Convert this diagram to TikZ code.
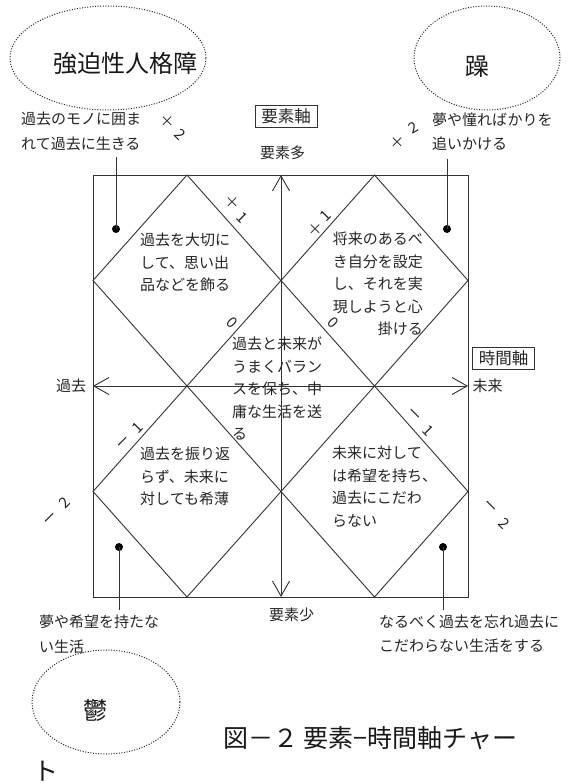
\documentclass[tikz,border=0pt]{standalone}
\usepackage{fontspec}
\setmainfont{Noto Sans CJK JP}
\usetikzlibrary{arrows.meta,shapes.geometric}
\tikzset{
  ln/.style={line width=0.9pt, draw=black!80},
  txt/.style={font=\fontsize{15}{22.5}\selectfont, text=black!85, inner sep=0pt},
  txtb/.style={font=\fontsize{15}{24.5}\selectfont, text=black!85, inner sep=0pt},
  lbl/.style={font=\fontsize{15}{16}\selectfont, text=black!85, inner sep=0pt},
  crs/.style={font=\fontsize{14}{16}\selectfont, text=black!85, inner sep=0pt},
  bigtxt/.style={font=\fontsize{24}{28}\selectfont, text=black!90, inner sep=0pt},
  captxt/.style={font=\fontsize{25}{28}\selectfont, text=black!90, inner sep=0pt},
  boxlbl/.style={draw=black!80, line width=0.9pt, font=\fontsize{16.5}{18}\selectfont, text=black!85, minimum width=62pt, minimum height=22pt, inner sep=0pt},
  dotoval/.style={ellipse, draw=black!85, line width=1pt, dash pattern=on 1pt off 1.6pt, inner sep=0pt},
  dotpin/.style={circle, fill=black, inner sep=0pt, minimum size=8pt},
  axarrows/.style={{Straight Barb[length=15pt,width=17pt]}-{Straight Barb[length=15pt,width=17pt]}},
}
\begin{document}
\begin{tikzpicture}[x=1pt,y=-1pt]
\useasboundingbox[fill=white] (0,0) rectangle (569,783);

% frame coordinates
\coordinate (nw) at (93,175);
\coordinate (se) at (468,597);
\coordinate (tm) at (281,175);
\coordinate (bm) at (281,597);
\coordinate (lm) at (93,386);
\coordinate (rm) at (468,386);
\coordinate (t1) at (187,175);
\coordinate (t2) at (374.5,175);
\coordinate (b1) at (187,597);
\coordinate (b2) at (374.5,597);
\coordinate (l1) at (93,280.5);
\coordinate (l2) at (93,491.5);
\coordinate (r1) at (468,280.5);
\coordinate (r2) at (468,491.5);
\coordinate (c1) at (281,280.5);
\coordinate (c2) at (281,491.5);
\coordinate (m1) at (187,386);
\coordinate (m2) at (374.5,386);

% square
\draw[ln] (nw) rectangle (se);

% diamonds
\draw[ln] (t1) -- (c1) -- (m1) -- (l1) -- cycle;
\draw[ln] (t2) -- (r1) -- (m2) -- (c1) -- cycle;
\draw[ln] (m1) -- (c2) -- (b1) -- (l2) -- cycle;
\draw[ln] (m2) -- (r2) -- (b2) -- (c2) -- cycle;

% axes
\draw[ln, axarrows] (bm) -- (tm);
\draw[ln, axarrows] (lm) -- (rm);

% ellipses
\node[dotoval, minimum width=196pt, minimum height=104pt] (e1) at (108,58) {};
\node[dotoval, minimum width=146pt, minimum height=104pt] (e2) at (487,58) {};
\node[dotoval, minimum width=148pt, minimum height=104pt] (e3) at (106,702) {};
\node[bigtxt] (e1t) at (125,63) {強迫性人格障};
\node[bigtxt] (e2t) at (477,67) {躁};
\node[bigtxt] (e3t) at (95,710) {鬱};

% axis labels
\node[boxlbl] (yaxis) at (286,116) {要素軸};
\node[boxlbl] (xaxis) at (503.5,358.5) {時間軸};
\node[txt] (up) at (282.5,153) {要素多};
\node[txt] (dn) at (291.5,615) {要素少};
\node[txt] (past) at (71,386) {過去};
\node[txt] (fut) at (487.5,386) {未来};

% quadrant texts
\node[txt, align=left, anchor=west] (qtl) at (140,262.5) {過去を大切に\\して、思い出\\品などを飾る};
\node[txt, align=right, anchor=east] (qtr) at (423,284) {将来のあるべ\\き自分を設定\\し、それを実\\現しようと心\\掛ける};
\node[txt, align=left, anchor=west] (qc) at (232,388.5) {過去と未来が\\うまくバラン\\スを保ち、中\\庸な生活を送\\る};
\node[txt, align=left, anchor=west] (qbl) at (140,476.5) {過去を振り返\\らず、未来に\\対しても希薄};
\node[txt, align=left, anchor=west] (qbr) at (332,486.5) {未来に対して\\は希望を持ち、\\過去にこだわ\\らない};

% outer labels
\node[txtb, align=left, anchor=west] (otl) at (21,131.5) {過去のモノに囲ま\\れて過去に生きる};
\node[txtb, align=left, anchor=west] (otr) at (432,131.5) {夢や憧ればかりを\\追いかける};
\node[txtb, align=left, anchor=west] (obl) at (39,634.5) {夢や希望を持たな\\い生活};
\node[txtb, align=left, anchor=west] (obr) at (379,634) {なるべく過去を忘れ過去に\\こだわらない生活をする};

% pins
\node[dotpin] (dtl) at (116,229) {};
\node[dotpin] (dtr) at (447,229) {};
\node[dotpin] (dbl) at (119,547) {};
\node[dotpin] (dbr) at (443,547) {};
\coordinate (etl) at (116,157);
\coordinate (etr) at (447,159);
\coordinate (ebl) at (119,610);
\coordinate (ebr) at (443,610);
\draw[ln] (etl) -- (dtl.center);
\draw[ln] (etr) -- (dtr.center);
\draw[ln] (dbl.center) -- (ebl);
\draw[ln] (dbr.center) -- (ebr);

% scale labels: crosses upright, digits and dashes tilted
\node[crs] (x1) at (167,122) {×};
\node[lbl, rotate=-45] (n1) at (180,135) {2};
\node[crs] (x2) at (397,143) {×};
\node[lbl, rotate=30] (n2) at (413,128) {2};
\node[crs] (x3) at (232,203) {×};
\node[lbl, rotate=-45] (n3) at (242,218) {1};
\node[crs] (x4) at (315,230) {×};
\node[lbl, rotate=45] (n4) at (326,216) {1};
\node[lbl, rotate=-45] (n5) at (232,323) {0};
\node[lbl, rotate=-45] (n6) at (333,323) {0};
\node[crs, rotate=45] (m7) at (124,443) {ー};
\node[lbl, rotate=45] (n7) at (138,428) {1};
\node[crs, rotate=-45] (m8) at (414,415) {ー};
\node[lbl, rotate=-45] (n8) at (428,431) {1};
\node[crs, rotate=45] (m9) at (51,519) {ー};
\node[lbl, rotate=45] (n9) at (65,503) {2};
\node[crs, rotate=-45] (m10) at (490,507) {ー};
\node[lbl, rotate=-45] (n10) at (504,524) {2};

% caption
\node[captxt, anchor=west] (cap) at (223,738) {図－２ 要素−時間軸チャー};
\node[captxt, anchor=west] (cap2) at (33,771) {ト};
\end{tikzpicture}
\end{document}
